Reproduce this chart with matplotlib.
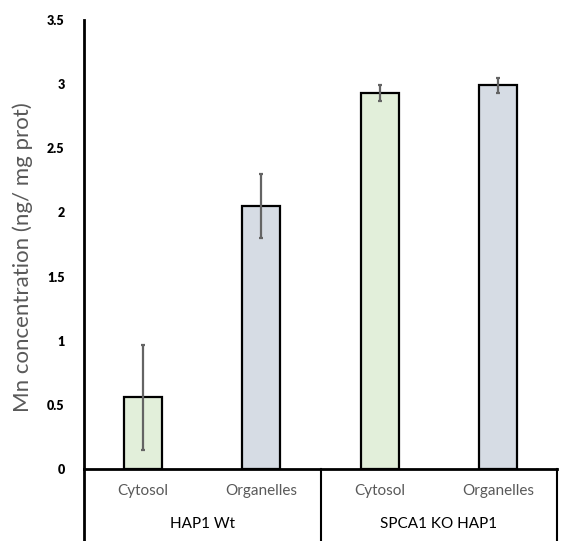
import matplotlib
matplotlib.use("Agg")
import matplotlib.pyplot as plt
import matplotlib.transforms as mtransforms

# data
groups = ["HAP1 Wt", "SPCA1 KO HAP1"]
fractions = ["Cytosol", "Organelles"]
values = [0.56, 2.05, 2.93, 2.99]
errors = [0.41, 0.25, 0.06, 0.06]
colors = ["#E2EFDA", "#D6DCE4", "#E2EFDA", "#D6DCE4"]
yticks = [0, 0.5, 1, 1.5, 2, 2.5, 3, 3.5]

plt.rcParams["font.family"] = ["Lato", "DejaVu Sans"]

W, H = 562, 541
fig = plt.figure(figsize=(W / 100, H / 100), dpi=100)
ax = fig.add_axes([84 / W, 1 - 469 / H, (557 - 84) / W, (469 - 20) / H])

x = [0.5 + i for i in range(len(values))]
ax.bar(x, values, width=0.32, color=colors, edgecolor="black", linewidth=1.6, zorder=2)
ax.errorbar(x, values, yerr=errors, fmt="none", ecolor="#646464", elinewidth=1.6,
            capsize=1.5, capthick=1.6, zorder=3)

ax.set_xlim(0, 4)
ax.set_ylim(0, 3.5)
ax.set_yticks(yticks)
ax.set_yticklabels([f"{t:g}" for t in yticks], fontsize=9, fontweight="heavy")
ax.tick_params(axis="y", length=0, pad=14)
ax.set_xticks([])
for s in ["top", "right"]:
    ax.spines[s].set_visible(False)
ax.spines["left"].set_linewidth(2)
ax.spines["bottom"].set_linewidth(2)

ax.set_ylabel("Mn concentration (ng/ mg prot)", fontsize=16, color="#595959")
ax.yaxis.set_label_coords(-0.108, 0.472)

# category table below axis
trans = mtransforms.blended_transform_factory(ax.transData, fig.transFigure)
yb = 1 - 469 / H
for i, xi in enumerate(x):
    ax.text(xi, 1 - 491 / H, fractions[i % 2], transform=trans, ha="center", va="center",
            fontsize=11, color="#595959")
for g, name in enumerate(groups):
    ax.text(1 + 2 * g, 1 - 524 / H, name, transform=trans, ha="center", va="center",
            fontsize=11, color="black")
for xv in [0, 2, 4]:
    ax.plot([xv, xv], [0, yb], transform=trans, color="black", lw=1.5 if xv else 2,
            clip_on=False)

fig.savefig("out.png", dpi=100, facecolor="white")
